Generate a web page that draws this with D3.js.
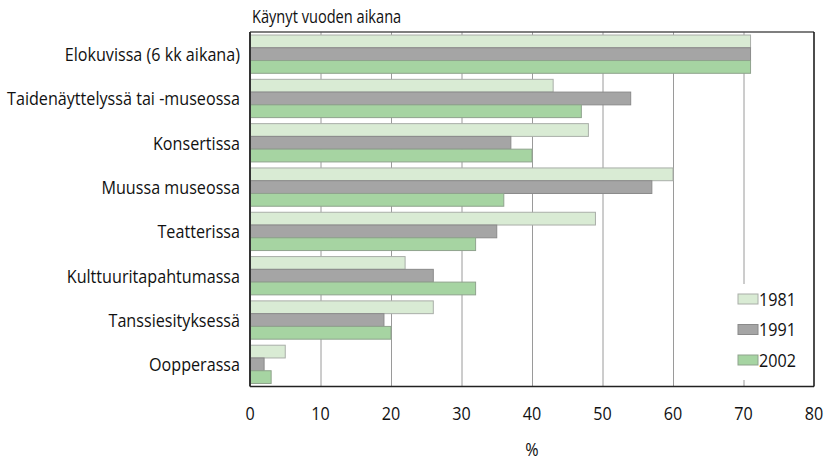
<!DOCTYPE html>
<html>
<head>
<meta charset="utf-8">
<script src="https://cdn.jsdelivr.net/npm/d3@7"></script>
<style>
  html, body { margin: 0; padding: 0; background: #fff; }
  svg text { font-family: "Open Sans", "Noto Sans", sans-serif; fill: #111; }
</style>
</head>
<body>
<svg id="chart" width="829" height="461"></svg>
<script>
// Categories (top to bottom) and visit shares per survey year, %
const categories = [
  "Elokuvissa (6 kk aikana)",
  "Taidenäyttelyssä tai -museossa",
  "Konsertissa",
  "Muussa museossa",
  "Teatterissa",
  "Kulttuuritapahtumassa",
  "Tanssiesityksessä",
  "Oopperassa"
];
const years = ["1981", "1991", "2002"];
const values1981 = [71, 43, 48, 60, 49, 22, 26, 5];
const values1991 = [71, 54, 37, 57, 35, 26, 19, 2];
const values2002 = [71, 47, 40, 36, 32, 32, 20, 3];
const xTicks = [0, 10, 20, 30, 40, 50, 60, 70, 80];
const titleText = "Käynyt vuoden aikana";
const axisTitle = "%";

const seriesValues = [values1981, values1991, values2002];
const fills = ["#d9ebd4", "#a5a5a5", "#a6d4a2"];
const strokes = ["#a9aea8", "#8a8a8a", "#8fa38d"];

// Condensed look: text is drawn slightly narrowed horizontally
const FONT_SIZE = 19;
const NARROW = 0.85;

const svg = d3.select("#chart");
const plot = { left: 250, right: 814, top: 32, bottom: 386.5 };

const x = d3.scaleLinear().domain([0, 80]).range([plot.left, plot.right]);
const y = d3.scaleBand().domain(categories).range([plot.top, plot.bottom])
  .paddingInner(0.136).paddingOuter(0.068);
const ySub = d3.scaleBand().domain(years).range([0, y.bandwidth()]);

function label(sel, px, py, anchor, size = FONT_SIZE, narrow = NARROW) {
  return sel
    .attr("transform", (d, i) => `translate(${typeof px === "function" ? px(d, i) : px},${typeof py === "function" ? py(d, i) : py}) scale(${narrow},1)`)
    .attr("x", 0).attr("y", 0)
    .attr("dy", "0.36em")
    .attr("text-anchor", anchor)
    .attr("font-size", size);
}

// Vertical gridlines
svg.append("g").selectAll("line").data(xTicks.filter(t => t > 0 && t < 80)).join("line")
  .attr("x1", d => x(d) + 0.5).attr("x2", d => x(d) + 0.5)
  .attr("y1", plot.top).attr("y2", plot.bottom)
  .attr("stroke", "#9a9a9a").attr("stroke-width", 1);

// Bars
const groups = svg.append("g").selectAll("g").data(categories).join("g")
  .attr("transform", d => `translate(0,${y(d)})`);
groups.selectAll("rect")
  .data((c, i) => years.map((yr, k) => ({ yr, k, v: seriesValues[k][i] })))
  .join("rect")
  .attr("x", x(0))
  .attr("y", d => ySub(d.yr))
  .attr("width", d => x(d.v) - x(0))
  .attr("height", ySub.bandwidth())
  .attr("fill", d => fills[d.k])
  .attr("stroke", d => strokes[d.k])
  .attr("stroke-width", 1);

// Legend box (white background over gridlines)
const legend = svg.append("g").attr("transform", "translate(728,284)");
legend.append("rect").attr("x", 0).attr("y", 0).attr("width", 82).attr("height", 96).attr("fill", "#fff");
years.forEach((yr, k) => {
  const row = legend.append("g").attr("transform", `translate(10,${10 + k * 30.5})`);
  row.append("rect").attr("x", 0).attr("y", 0).attr("width", 20).attr("height", 10)
    .attr("fill", fills[k]).attr("stroke", strokes[k]);
  label(row.append("text"), 21, 5, "start").text(yr);
});

// Frame
svg.append("line").attr("x1", plot.left).attr("x2", plot.right).attr("y1", plot.top).attr("y2", plot.top)
  .attr("stroke", "#555").attr("stroke-width", 1.5);
svg.append("line").attr("x1", plot.left).attr("x2", plot.right).attr("y1", plot.bottom).attr("y2", plot.bottom)
  .attr("stroke", "#222").attr("stroke-width", 1.5);
svg.append("line").attr("x1", plot.right).attr("x2", plot.right).attr("y1", plot.top).attr("y2", plot.bottom)
  .attr("stroke", "#111").attr("stroke-width", 1.5);
svg.append("line").attr("x1", plot.left).attr("x2", plot.left).attr("y1", plot.top).attr("y2", plot.bottom)
  .attr("stroke", "#333").attr("stroke-width", 2);

// Category labels
label(svg.append("g").selectAll("text").data(categories).join("text"),
  plot.left - 10, d => y(d) + y.bandwidth() / 2, "end").text(d => d);

// X tick labels
label(svg.append("g").selectAll("text").data(xTicks).join("text"),
  d => x(d), 413, "middle").text(d => d);

// Titles
label(svg.append("text"), 252, 16, "start", 18.5, 0.79).text(titleText);
label(svg.append("text"), x(40), 449, "middle").text(axisTitle);
</script>
</body>
</html>
